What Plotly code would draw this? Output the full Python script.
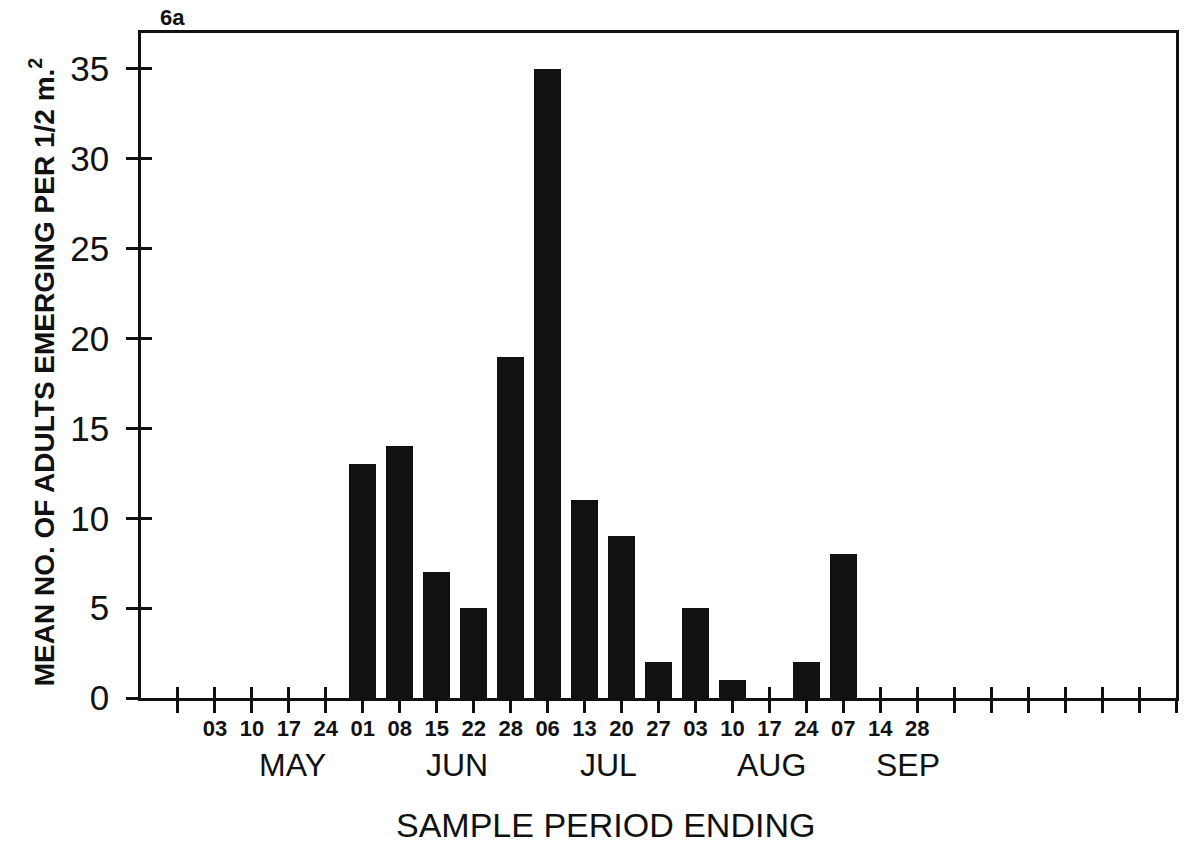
import plotly.graph_objects as go

# Sample period end dates (day of month), grouped by month
day_labels = ["03", "10", "17", "24",
              "01", "08", "15", "22", "28",
              "06", "13", "20", "27",
              "03", "10", "17", "24",
              "07", "14", "28"]
months = ["MAY", "JUN", "JUL", "AUG", "SEP"]
# Mean number of adults emerging per 1/2 m^2 for each sample period
mean_adults = [0, 0, 0, 0,
               13, 14, 7, 5, 19,
               35, 11, 9, 2,
               5, 1, 0, 2,
               8, 0, 0]
y_ticks = [0, 5, 10, 15, 20, 25, 30, 35]

# Layout of the category slots along the x axis
first_slot = 2
n_slots = 28
slot_x = list(range(first_slot, first_slot + len(day_labels)))
tick_x = list(range(1, n_slots + 1))
tick_text = [""] * n_slots
for x, lab in zip(slot_x, day_labels):
    tick_text[x - 1] = lab
month_x = [4.1, 8.55, 12.65, 17.05, 20.75]

FONT = "Liberation Sans, Arial, Helvetica, sans-serif"
INK = "#111111"

fig = go.Figure()
fig.add_trace(go.Bar(
    x=slot_x, y=mean_adults, width=0.72,
    marker=dict(color=INK, line=dict(width=0)),
    showlegend=False, hoverinfo="skip",
))
# empty trace to carry the overlaid (inner tick) axes
fig.add_trace(go.Scatter(x=[None], y=[None], xaxis="x2", yaxis="y2",
                         showlegend=False, hoverinfo="skip"))

axis_common = dict(showgrid=False, zeroline=False, color=INK)

fig.update_layout(
    width=1185, height=844,
    margin=dict(l=141, r=6, t=33, b=146),
    paper_bgcolor="white", plot_bgcolor="white",
    bargap=0,
    xaxis=dict(
        range=[0, n_slots], tickmode="array", tickvals=tick_x, ticktext=tick_text,
        ticks="outside", ticklen=12, tickwidth=2.5, tickcolor=INK,
        showline=True, linewidth=2.5, linecolor=INK, mirror=True,
        tickfont=dict(family=FONT, size=22, color=INK, weight="bold"),
        ticklabelstandoff=-3,
        **axis_common,
    ),
    yaxis=dict(
        range=[0, 37], tickmode="array", tickvals=y_ticks,
        ticks="outside", ticklen=12, tickwidth=2.5, tickcolor=INK,
        showline=True, linewidth=2.5, linecolor=INK, mirror=True,
        tickfont=dict(family=FONT, size=35, color=INK),
        ticklabelstandoff=10,
        **axis_common,
    ),
    xaxis2=dict(
        range=[0, n_slots], overlaying="x", matches="x", anchor="y2", side="bottom",
        tickmode="array", tickvals=tick_x, ticks="inside", ticklen=11,
        tickwidth=2.5, tickcolor=INK, showticklabels=False, showline=False,
        **axis_common,
    ),
    yaxis2=dict(
        range=[0, 37], overlaying="y", anchor="x2", side="left",
        tickmode="array", tickvals=y_ticks, ticks="inside", ticklen=11,
        tickwidth=2.5, tickcolor=INK, showticklabels=False, showline=False,
        **axis_common,
    ),
)

# month names under the day labels
for mx, name in zip(month_x, months):
    fig.add_annotation(x=mx, y=-0.1, xref="x", yref="paper", text=name,
                       showarrow=False, xanchor="center", yanchor="middle",
                       font=dict(family=FONT, size=32, color=INK))

fig.add_annotation(x=0.449, y=-0.191, xref="paper", yref="paper",
                   text="SAMPLE PERIOD ENDING", showarrow=False,
                   xanchor="center", yanchor="middle",
                   font=dict(family=FONT, size=34, color=INK))

fig.add_annotation(x=-0.0955, y=0.49, xref="paper", yref="paper",
                   text="MEAN NO. OF ADULTS EMERGING PER 1/2 m.<sup>2</sup>",
                   textangle=-90, showarrow=False,
                   xanchor="center", yanchor="middle",
                   font=dict(family=FONT, size=28, color=INK, weight="bold"))

fig.add_annotation(x=0.030, y=1.0226, xref="paper", yref="paper", text="6a",
                   showarrow=False, xanchor="center", yanchor="middle",
                   font=dict(family=FONT, size=22, color=INK, weight="bold"))

fig.write_html("out.html")
